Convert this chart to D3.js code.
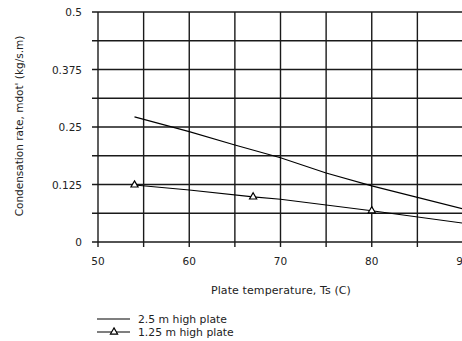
<!DOCTYPE html>
<html><head><meta charset="utf-8">
<script src="https://cdn.jsdelivr.net/npm/d3@7"></script>
<style>body{margin:0;background:#fff}svg{display:block}text{font-family:"DejaVu Sans",Verdana,sans-serif;fill:#222}</style>
</head><body>
<script>
const xTicks = [50, 60, 70, 80, 90];
const yTicks = [0, 0.125, 0.25, 0.375, 0.5];
const tempHigh = [54, 60, 65, 70, 75, 80, 85, 90];
const rateHigh = [0.272, 0.240, 0.211, 0.183, 0.150, 0.122, 0.097, 0.072];
const tempLow = [54, 60, 67, 70, 80, 90];
const rateLow = [0.124, 0.113, 0.098, 0.093, 0.068, 0.041];
const markerTemps = [54, 67, 80];
const markerRates = [0.124, 0.098, 0.068];
const seriesNames = ["2.5 m high plate", "1.25 m high plate"];

const W = 462, H = 341;
const svg = d3.select("body").append("svg").attr("width", W).attr("height", H);
const x = d3.scaleLinear().domain([50, 90]).range([98, 463]);
const y = d3.scaleLinear().domain([0, 0.5]).range([242, 12]);

const grid = svg.append("g").attr("stroke", "#1a1a1a").attr("stroke-width", 1.4);
d3.range(50, 91, 5).forEach(v => {
  grid.append("line").attr("x1", x(v)).attr("x2", x(v)).attr("y1", y(0.5)).attr("y2", y(0) + 5);
});
d3.range(0, 0.5001, 0.0625).forEach(v => {
  grid.append("line").attr("x1", x(50) - 6).attr("x2", W).attr("y1", y(v)).attr("y2", y(v));
});

const fs = "10.5px";
svg.append("g").selectAll("text").data(xTicks).join("text")
  .attr("x", d => x(d)).attr("y", 265).attr("text-anchor", "middle")
  .attr("font-size", fs).text(d => d);
svg.append("g").selectAll("text").data(yTicks).join("text")
  .attr("x", 82).attr("y", d => y(d) + 4).attr("text-anchor", "end")
  .attr("font-size", fs).text(d => d);

svg.append("text").attr("x", 281).attr("y", 294).attr("text-anchor", "middle")
  .attr("font-size", "11px").attr("letter-spacing", "0.1px").text("Plate temperature, Ts (C)");
svg.append("text").attr("transform", "translate(23,126) rotate(-90)").attr("text-anchor", "middle")
  .attr("font-size", fs).text("Condensation rate, mdot' (kg/s.m)");

const line = d3.line().x(d => x(d[0])).y(d => y(d[1]));
svg.append("path").datum(tempHigh.map((t, i) => [t, rateHigh[i]]))
  .attr("d", line).attr("fill", "none").attr("stroke", "#000").attr("stroke-width", 1.1);
svg.append("path").datum(tempLow.map((t, i) => [t, rateLow[i]]))
  .attr("d", line).attr("fill", "none").attr("stroke", "#000").attr("stroke-width", 1.1);

const tri = d3.symbol().type(d3.symbolTriangle).size(22);
svg.append("g").selectAll("path").data(markerTemps.map((t, i) => [t, markerRates[i]])).join("path")
  .attr("d", tri).attr("transform", d => `translate(${x(d[0])},${y(d[1])})`)
  .attr("fill", "#fff").attr("stroke", "#000").attr("stroke-width", 1.2);

// legend
const lg = svg.append("g");
[319, 332].forEach((ly, i) => {
  lg.append("line").attr("x1", 97).attr("x2", 130).attr("y1", ly).attr("y2", ly).attr("stroke", "#000").attr("stroke-width", 1.1);
  lg.append("text").attr("x", 138).attr("y", ly + 4).attr("font-size", "10.8px").text(seriesNames[i]);
});
lg.append("path").attr("d", tri).attr("transform", "translate(114,332)")
  .attr("fill", "#fff").attr("stroke", "#000").attr("stroke-width", 1.2);
</script>
</body></html>
